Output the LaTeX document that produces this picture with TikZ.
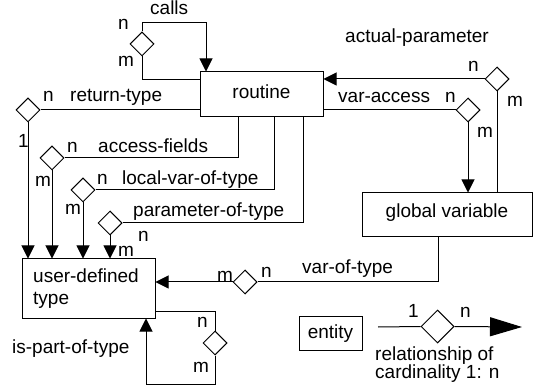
\documentclass[tikz,border=0pt]{standalone}
\usepackage{fontspec}
\setmainfont{Liberation Sans}
\usetikzlibrary{shapes.geometric,arrows.meta}
\tikzset{
  every node/.style={font=\fontsize{19}{22}\selectfont},
  lbl/.style={inner sep=0pt, anchor=base west},
  ent/.style={draw, line width=1pt, inner sep=0pt},
  rel/.style={draw, diamond, line width=1pt, fill=white, inner sep=0pt, minimum width=24pt, minimum height=24pt},
  conn/.style={line width=1pt},
  arr/.style={line width=1pt, -{Triangle[width=13pt,length=13pt]}},
  bigarr/.style={line width=1pt, -{Triangle[width=19pt,length=32pt]}}
}
\begin{document}
\begin{tikzpicture}[x=1pt,y=-1pt]
\useasboundingbox (0,0) rectangle (533,390);
% entities
\node[ent, minimum width=123pt, minimum height=45pt] (routine) at (261.5,94.5) {};
\node[inner sep=0pt, anchor=base] (routinet) at (261.5,99) {routine};
\node[ent, minimum width=170pt, minimum height=44pt] (gv) at (447,215) {};
\node[inner sep=0pt, anchor=base] (gvt) at (447,218) {global variable};
\node[ent, minimum width=133pt, minimum height=59pt] (udt) at (88.5,288.5) {};
\node[lbl] (udt1) at (33,283) {user-defined};
\node[lbl] (udt2) at (33,305) {type};
\node[ent, minimum width=63pt, minimum height=34pt] (entity) at (330.5,333) {};
\node[inner sep=0pt, anchor=base] (entityt) at (330.5,338) {entity};
% relationships
\node[rel] (dcalls) at (142,44) {};
\node[rel] (dret) at (28,110) {};
\node[rel] (dacc) at (52,158) {};
\node[rel] (dloc) at (83,190) {};
\node[rel] (dpar) at (110,223) {};
\node[rel] (dvot) at (245,282) {};
\node[rel] (dipt) at (215,343) {};
\node[rel] (dact) at (497,79) {};
\node[rel] (dvac) at (468,110) {};
\node[rel, minimum width=33pt, minimum height=33pt] (dleg) at (437.5,326.5) {};
% helper coordinates
\coordinate (cin) at (200,80);
\coordinate (ctop) at (206,23);
\coordinate (cacc) at (238,117);
\coordinate (cloc) at (274,117);
\coordinate (cpar) at (303,117);
\coordinate (cvot) at (438,237);
\coordinate (cipt) at (155,311);
\coordinate (cbot) at (146,384);
\coordinate (legl) at (378,327);
\coordinate (legr) at (522,327);
% calls
\draw[conn] (cin) -| (dcalls.south);
\draw[arr] (dcalls.north) |- (ctop) -- (ctop |- routine.north);
% return-type
\draw[conn] (routine.west |- dret) -- (dret.east);
\draw[arr] (dret.south) -- (dret.south |- udt.north);
% access-fields
\draw[conn] (cacc) |- (dacc.east);
\draw[arr] (dacc.south) -- (dacc.south |- udt.north);
% local-var-of-type
\draw[conn] (cloc) |- (dloc.east);
\draw[arr] (dloc.south) -- (dloc.south |- udt.north);
% parameter-of-type
\draw[conn] (cpar) |- (dpar.east);
\draw[arr] (dpar.south) -- (dpar.south |- udt.north);
% var-of-type
\draw[conn] (cvot) |- (dvot.east);
\draw[arr] (dvot.west) -- (dvot.west -| udt.east);
% is-part-of-type
\draw[conn] (cipt) -| (dipt.north);
\draw[arr] (dipt.south) |- (cbot) -- (cbot |- udt.south);
% actual-parameter
\draw[arr] (dact.west) -- (dact.west -| routine.east);
\draw[conn] (dact.south) -- (dact.south |- gv.north);
% var-access
\draw[conn] (routine.east |- dvac) -- (dvac.west);
\draw[arr] (dvac.south) -- (dvac.south |- gv.north);
% legend
\draw[conn] (legl) -- (dleg.west);
\draw[bigarr] (dleg.east) -- (legr);
% labels
\node[lbl] (l1) at (150,15) {calls};
\node[lbl] (l2) at (118,30) {n};
\node[lbl] (l3) at (118,67) {m};
\node[lbl] (l4) at (43,102) {n};
\node[lbl] (l5) at (70,102) {return-type};
\node[lbl] (l6) at (18,148) {1};
\node[lbl] (l7) at (67,153) {n};
\node[lbl] (l8) at (98,153) {access-fields};
\node[lbl] (l9) at (35,187) {m};
\node[lbl] (l10) at (97,185) {n};
\node[lbl] (l11) at (122,185) {local-var-of-type};
\node[lbl] (l12) at (65,215) {m};
\node[lbl] (l13) at (133,217) {parameter-of-type};
\node[lbl] (l14) at (138,242) {n};
\node[lbl] (l15) at (118,257) {m};
\node[lbl] (l16) at (217,281) {m};
\node[lbl] (l17) at (261,278) {n};
\node[lbl] (l18) at (302,273) {var-of-type};
\node[lbl] (l19) at (197,327) {n};
\node[lbl] (l20) at (193,372) {m};
\node[lbl] (l21) at (12,353) {is-part-of-type};
\node[lbl] (l22) at (345,43) {actual-parameter};
\node[lbl] (l23) at (468,72) {n};
\node[lbl] (l24) at (507,107) {m};
\node[lbl] (l25) at (338,103) {var-access};
\node[lbl] (l26) at (445,103) {n};
\node[lbl] (l27) at (477,138) {m};
\node[lbl] (l28) at (408,317) {1};
\node[lbl] (l29) at (460,317) {n};
\node[lbl] (l30) at (375,360) {relationship of};
\node[lbl] (l31) at (375,378) {cardinality 1: n};
\end{tikzpicture}
\end{document}
